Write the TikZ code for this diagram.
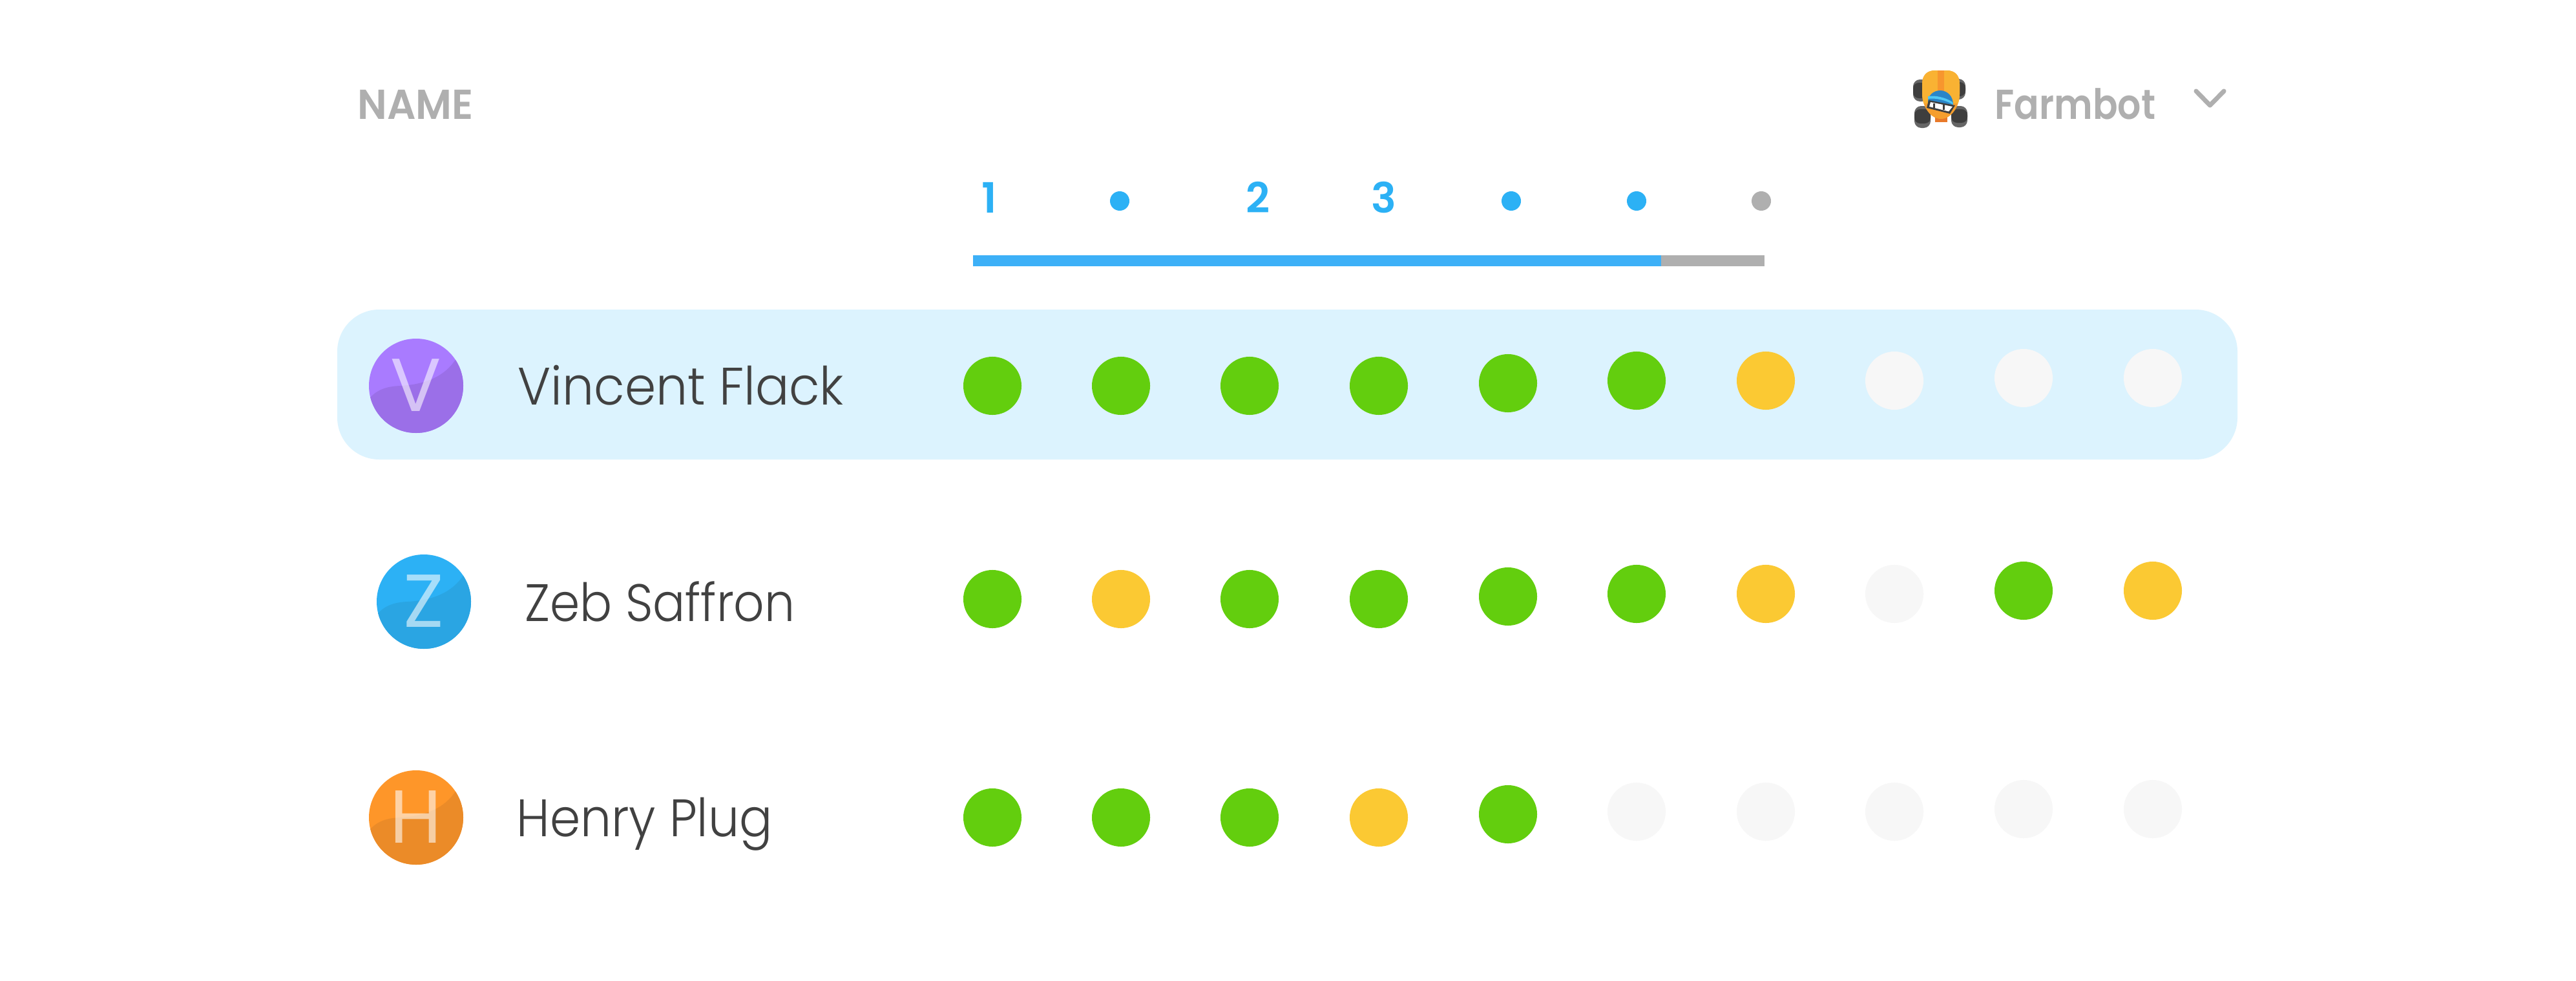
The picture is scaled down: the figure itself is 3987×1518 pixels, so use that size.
\documentclass[tikz,border=0pt]{standalone}
\usepackage{fontspec}
\setmainfont{Poppins}
\newfontfamily\lightf{Poppins Light}
\newfontfamily\semif{Poppins SemiBold}
\definecolor{barblue}{HTML}{3DB0F7}
\definecolor{digitblue}{HTML}{2CB1F5}
\definecolor{greytxt}{HTML}{AFAFAF}
\definecolor{panel}{HTML}{DCF3FE}
\definecolor{dgreen}{HTML}{63CE0E}
\definecolor{dyellow}{HTML}{FBC933}
\definecolor{dempty}{HTML}{F7F7F7}
\definecolor{nametxt}{HTML}{414141}
\definecolor{vbase}{HTML}{A97BFF}
\definecolor{vdark}{HTML}{9B6FE8}
\definecolor{zbase}{HTML}{2CB1F5}
\definecolor{zdark}{HTML}{2AA5E3}
\definecolor{hbase}{HTML}{FE9629}
\definecolor{hdark}{HTML}{EB8B28}
\definecolor{wheel}{HTML}{3E3E3E}
\definecolor{wheeledge}{HTML}{666666}
\definecolor{botbody}{HTML}{F9B233}
\definecolor{botlow}{HTML}{F59E2E}
\definecolor{botstripe}{HTML}{F7962E}
\definecolor{bottab}{HTML}{E8792A}
\definecolor{helmet}{HTML}{2A85C8}
\definecolor{helmetl}{HTML}{50C8F5}
\tikzset{
  dotg/.style={circle,fill=dgreen,minimum size=0.9cm,inner sep=0pt},
  doty/.style={circle,fill=dyellow,minimum size=0.9cm,inner sep=0pt},
  dote/.style={circle,fill=dempty,minimum size=0.9cm,inner sep=0pt},
  tick/.style={circle,minimum size=0.30cm,inner sep=0pt},
  nametext/.style={anchor=base west,inner sep=0pt,text=nametxt,font=\lightf\fontsize{23.2pt}{26pt}\selectfont,transform shape},
  headtext/.style={anchor=base west,inner sep=0pt,text=greytxt,font=\semif\fontsize{18.4pt}{22pt}\selectfont,transform shape},
  digit/.style={anchor=base,inner sep=0pt,text=digitblue,font=\semif\fontsize{18.4pt}{22pt}\selectfont,transform shape},
  avatarletter/.style={anchor=base,inner sep=0pt,text=white,text opacity=0.58,font=\fontsize{33pt}{36pt}\selectfont,transform shape},
  wheelshape/.style={fill=wheeledge,rounded corners=3pt},
  wheelcore/.style={fill=wheel,rounded corners=2.5pt}
}
\newcommand{\avatardisc}[5]{%
  \begin{scope}[shift={(#1,#2)}]
    \fill[#3] (0,0) circle (73);
    \begin{scope}
      \clip (0,0) circle (73);
      \fill[#4] (-80,30) .. controls (-65,5) and (-45,1) .. (-25,0)
        .. controls (15,-2) and (45,-15) .. (62,-42) -- (90,-60) -- (90,90) -- (-90,90) -- cycle;
    \end{scope}
  \end{scope}
  \node[avatarletter] (letter#5) at (#1,#2+39) {#5};
}
\begin{document}
\begin{tikzpicture}[x=0.01cm,y=-0.01cm]
\useasboundingbox (0,0) rectangle (3987,1518);
\fill[white] (0,0) rectangle (3987,1518);

% header
\node[headtext,xscale=0.96] (nameh) at (553,184) {NAME};
\node[headtext,xscale=0.88] (farm) at (3087,184) {Farmbot};
\coordinate (chevl) at (3399,141);
\coordinate (chevm) at (3420.5,163);
\coordinate (chevr) at (3442,141);
\draw[greytxt,line width=2pt,line cap=round,line join=round] (chevl) -- (chevm) -- (chevr);

% robot
\fill[wheelshape] (2961,123) rectangle (2985,157);
\fill[wheelcore] (2961,128) rectangle (2985,152);
\fill[wheelshape] (3022,122) rectangle (3042,154);
\fill[wheelcore] (3022,127) rectangle (3042,149);
\fill[wheelshape] (2963,164) rectangle (2988,198);
\fill[wheelcore] (2963,169) rectangle (2988,191);
\fill[wheelshape] (3020,164) rectangle (3045,197);
\fill[wheelcore] (3020,169) rectangle (3045,190);
\fill[bottab] (2995,175) rectangle (3014,189);
\fill[botlow] (2975,130) .. controls (2975,116) and (2983,109) .. (2995,109) -- (3013,109)
  .. controls (3025,109) and (3033,116) .. (3033,130) -- (3033,145)
  .. controls (3033,165) and (3020,184) .. (3004,184)
  .. controls (2988,184) and (2975,165) .. (2975,145) -- cycle;
\begin{scope}
  \clip (2975,130) .. controls (2975,116) and (2983,109) .. (2995,109) -- (3013,109)
  .. controls (3025,109) and (3033,116) .. (3033,130) -- (3033,145)
  .. controls (3033,165) and (3020,184) .. (3004,184)
  .. controls (2988,184) and (2975,165) .. (2975,145) -- cycle;
  \fill[botbody] (2970,100) rectangle (3040,160);
  \fill[botstripe] (2999,105) rectangle (3009,150);
\end{scope}
\fill[helmet] (2984,158) .. controls (2984,148) and (2992,140) .. (3003,140)
  .. controls (3014,140) and (3023,149) .. (3023,162) -- cycle;
\fill[helmetl] (2984,149) .. controls (2995,147) and (3012,151) .. (3022,158) -- (3023,162) .. controls (3012,155) and (2995,151) .. (2984,153) -- cycle;
\fill[wheel] (2985,155) -- (3026,163) -- (3018,176) -- (2982,167) -- cycle;
\fill[white] (2988,158) -- (3022,165) -- (3016,172.5) -- (2986,165) -- cycle;
\fill[wheel] (2992,160) rectangle (2995,167);
\fill[wheel] (3007,162) rectangle (3010,170);

% tick row
\node[digit] (d1) at (1531,329) {1};
\node[tick,fill=digitblue] (t1) at (1733,311) {};
\node[digit] (d2) at (1947,329) {2};
\node[digit] (d3) at (2142,329) {3};
\node[tick,fill=digitblue] (t2) at (2339,311) {};
\node[tick,fill=digitblue] (t3) at (2533,311) {};
\node[tick,fill=greytxt] (t4) at (2726,311) {};
\fill[barblue] (1506,395) rectangle (2571,412);
\fill[greytxt] (2571,395) rectangle (2731,412);

% highlight
\fill[panel,rounded corners=0.65cm] (522,479) rectangle (3463,711);

% avatars and names
\avatardisc{644}{597}{vbase}{vdark}{V}
\avatardisc{656}{931}{zbase}{zdark}{Z}
\avatardisc{644}{1265}{hbase}{hdark}{H}
\node[nametext,xscale=0.95] (n1) at (801,626) {Vincent Flack};
\node[nametext,xscale=0.91] (n2) at (812,961) {Zeb Saffron};
\node[nametext,xscale=0.93] (n3) at (799,1294) {Henry Plug};

% row 1
\node[dotg] (a1) at (1536,597) {};
\node[dotg] (a2) at (1735,597) {};
\node[dotg] (a3) at (1934,597) {};
\node[dotg] (a4) at (2134,597) {};
\node[dotg] (a5) at (2334,593) {};
\node[dotg] (a6) at (2533,589) {};
\node[doty] (a7) at (2733,589) {};
\node[dote] (a8) at (2932,589) {};
\node[dote] (a9) at (3132,585) {};
\node[dote] (a10) at (3332,585) {};
% row 2
\node[dotg] (b1) at (1536,927) {};
\node[doty] (b2) at (1735,927) {};
\node[dotg] (b3) at (1934,927) {};
\node[dotg] (b4) at (2134,927) {};
\node[dotg] (b5) at (2334,923) {};
\node[dotg] (b6) at (2533,919) {};
\node[doty] (b7) at (2733,919) {};
\node[dote] (b8) at (2932,919) {};
\node[dotg] (b9) at (3132,914) {};
\node[doty] (b10) at (3332,914) {};
% row 3
\node[dotg] (c1) at (1536,1265) {};
\node[dotg] (c2) at (1735,1265) {};
\node[dotg] (c3) at (1934,1265) {};
\node[doty] (c4) at (2134,1265) {};
\node[dotg] (c5) at (2334,1260) {};
\node[dote] (c6) at (2533,1256) {};
\node[dote] (c7) at (2733,1256) {};
\node[dote] (c8) at (2932,1256) {};
\node[dote] (c9) at (3132,1252) {};
\node[dote] (c10) at (3332,1252) {};
\end{tikzpicture}
\end{document}
